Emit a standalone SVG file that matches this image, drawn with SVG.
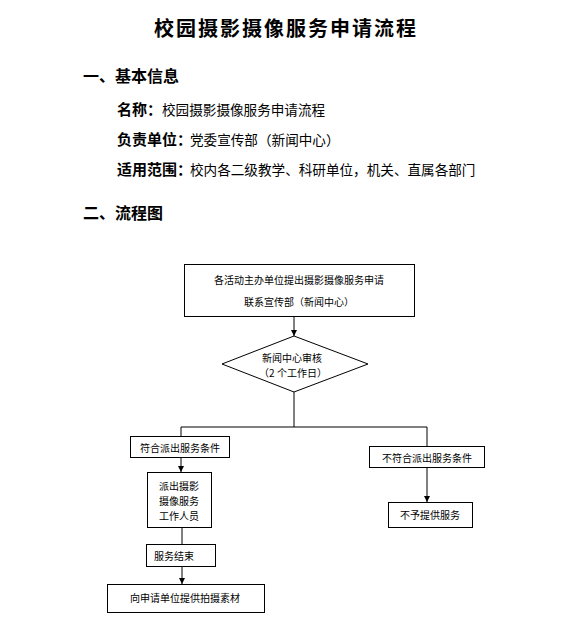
<svg xmlns="http://www.w3.org/2000/svg" width="569" height="638" viewBox="0 0 569 638">
<style>
text{font-family:"Noto Sans CJK SC","Liberation Sans",sans-serif;fill:#000}
.title{font-size:20px;font-weight:bold;letter-spacing:2px}
.h{font-size:16px;font-weight:bold}
.lb{font-size:15px;font-weight:bold}
.tx{font-size:13.6px;font-weight:normal}
.n{font-size:10px}
.box{fill:#fff;stroke:#000;stroke-width:1}
.ln{fill:none;stroke:#000;stroke-width:1}
</style>
<defs>
<marker id="arr" markerUnits="userSpaceOnUse" markerWidth="6" markerHeight="6" refX="6" refY="3" orient="auto" viewBox="0 0 6 6">
<path d="M0,0 L6,3 L0,6 Z" fill="#000"/>
</marker>
</defs>
<rect width="569" height="638" fill="#fff"/>
<text class="title" x="286" y="36" text-anchor="middle">校园摄影摄像服务申请流程</text>
<text class="h" x="83" y="82">一、基本信息</text>
<text class="lb" x="117" y="115">名称：<tspan class="tx">校园摄影摄像服务申请流程</tspan></text>
<text class="lb" x="117" y="145">负责单位：<tspan class="tx" x="190">党委宣传部（新闻中心）</tspan></text>
<text class="lb" x="117" y="175">适用范围：<tspan class="tx" x="190">校内各二级教学、科研单位，机关、直属各部门</tspan></text>
<text class="h" x="83" y="219">二、流程图</text>
<g id="connectors">
<line class="ln" x1="294" y1="316" x2="294" y2="336" marker-end="url(#arr)"/>
<polyline class="ln" points="294,392 294,427"/>
<polyline class="ln" points="181,436 181,427 427,427 427,446"/>
<line class="ln" x1="181" y1="457" x2="181" y2="472" marker-end="url(#arr)"/>
<line class="ln" x1="427" y1="467" x2="427" y2="502" marker-end="url(#arr)"/>
<line class="ln" x1="182" y1="527" x2="182" y2="544"/>
<line class="ln" x1="182" y1="566" x2="182" y2="584" marker-end="url(#arr)"/>
</g>
<g id="start">
<rect class="box" x="184.5" y="264.5" width="230" height="52"/>
<text class="n" x="299" y="283.5" text-anchor="middle">各活动主办单位提出摄影摄像服务申请</text>
<text class="n" x="299" y="305.5" text-anchor="middle">联系宣传部（新闻中心）</text>
</g>
<g id="review">
<polygon class="box" points="294,336 368,364 294,392 222,364"/>
<text class="n" x="292" y="361.5" text-anchor="middle">新闻中心审核</text>
<text class="n" x="293" y="376.5" text-anchor="middle">（2 个工作日）</text>
</g>
<g id="yes">
<rect class="box" x="130.5" y="436.5" width="99" height="21"/>
<text class="n" x="180" y="451.5" text-anchor="middle">符合派出服务条件</text>
</g>
<g id="no">
<rect class="box" x="369.5" y="446.5" width="115" height="21"/>
<text class="n" x="427" y="461.5" text-anchor="middle">不符合派出服务条件</text>
</g>
<g id="dispatch">
<rect class="box" x="147.5" y="472.5" width="64" height="55"/>
<text class="n" x="179" y="489.5" text-anchor="middle">派出摄影</text>
<text class="n" x="179" y="504.5" text-anchor="middle">摄像服务</text>
<text class="n" x="179" y="519.5" text-anchor="middle">工作人员</text>
</g>
<g id="refuse">
<rect class="box" x="388.5" y="502.5" width="84" height="25"/>
<text class="n" x="430" y="518.5" text-anchor="middle">不予提供服务</text>
</g>
<g id="end">
<rect class="box" x="146.5" y="544.5" width="69" height="22"/>
<text class="n" x="154" y="559.5">服务结束</text>
</g>
<g id="deliver">
<rect class="box" x="107.5" y="584.5" width="157" height="28"/>
<text class="n" x="185" y="601.5" text-anchor="middle">向申请单位提供拍摄素材</text>
</g>
</svg>
